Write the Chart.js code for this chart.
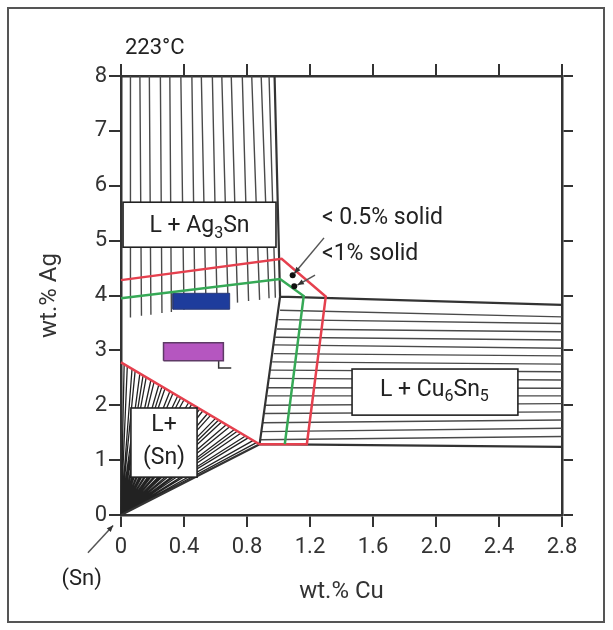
<!DOCTYPE html>
<html>
<head>
<meta charset="utf-8">
<script src="https://cdn.jsdelivr.net/npm/chart.js@4.4.0/dist/chart.umd.min.js"></script>
<style>
  body { margin: 0; background: #fff; }
  #wrap { width: 613px; height: 630px; }
</style>
</head>
<body>
<div id="wrap"><canvas id="grafico_fase" width="613" height="630"></canvas></div>
<script>
const FONTE = "Roboto, 'Liberation Sans', Arial, sans-serif"

// eixos
const valores_cu = [0, 0.4, 0.8, 1.2, 1.6, 2.0, 2.4, 2.8]
const rotulos_cu = ['0', '0.4', '0.8', '1.2', '1.6', '2.0', '2.4', '2.8']
const valores_ag = [0, 1, 2, 3, 4, 5, 6, 7, 8]
const rotulos_ag = ['0', '1', '2', '3', '4', '5', '6', '7', '8']

// L + Ag3Sn : linhas de amarração verticais (topo em 8 wt.% Ag)
const ag3sn_topo_x = [0.06, 0.12, 0.18, 0.25, 0.31, 0.38, 0.45, 0.51, 0.58, 0.64, 0.70, 0.77, 0.83, 0.89, 0.94]
const ag3sn_base_x = [0.06, 0.13, 0.19, 0.26, 0.32, 0.40, 0.47, 0.54, 0.61, 0.68, 0.74, 0.81, 0.88, 0.94, 0.98]
const ag3sn_base_y = [3.60, 3.63, 3.65, 3.68, 3.70, 3.74, 3.76, 3.79, 3.82, 3.85, 3.87, 3.90, 3.92, 3.95, 3.96]

// L + Cu6Sn5 : linhas horizontais (da fronteira esquerda até 2.8 wt.% Cu)
const cu6sn5_esq_x = [1.01, 1.00, 0.99, 0.98, 0.97, 0.97, 0.96, 0.95, 0.94, 0.93, 0.93, 0.92, 0.91, 0.90, 0.89, 0.88]
const cu6sn5_esq_y = [3.73, 3.56, 3.39, 3.24, 3.10, 2.94, 2.79, 2.64, 2.49, 2.32, 2.17, 2.00, 1.85, 1.68, 1.52, 1.37]
const cu6sn5_dir_y = [3.61, 3.49, 3.34, 3.19, 3.04, 2.90, 2.75, 2.61, 2.46, 2.31, 2.17, 2.03, 1.88, 1.73, 1.58, 1.43]

// L + (Sn) : leque a partir da origem
const sn_leque_x = [0.02, 0.04, 0.07, 0.09, 0.12, 0.14, 0.16, 0.19, 0.21, 0.24, 0.26, 0.28, 0.31, 0.33, 0.36, 0.38, 0.40, 0.43,
                    0.45, 0.48, 0.50, 0.52, 0.55, 0.57, 0.60, 0.62, 0.64, 0.67, 0.69, 0.72, 0.74, 0.76, 0.79, 0.81, 0.84, 0.86]
const sn_leque_y = [2.75, 2.71, 2.66, 2.63, 2.58, 2.54, 2.51, 2.46, 2.42, 2.37, 2.34, 2.31, 2.25, 2.22, 2.17, 2.14, 2.10, 2.05,
                    2.02, 1.97, 1.93, 1.90, 1.85, 1.82, 1.76, 1.73, 1.70, 1.65, 1.61, 1.56, 1.53, 1.49, 1.44, 1.41, 1.36, 1.32]

// fronteiras das regiões (segmentos)
const fronteira_x1 = [0.975, 1.01, 0.88, 1.01, 0]
const fronteira_y1 = [8, 3.98, 1.29, 3.98, 0]
const fronteira_x2 = [1.01, 2.8, 2.8, 0.88, 0.88]
const fronteira_y2 = [3.98, 3.83, 1.24, 1.29, 1.29]

// contornos < 0.5% solid (vermelho) e < 1% solid (verde)
const vermelho_x = [0, 0.88, 1.18, 1.30, 1.02, 0]
const vermelho_y = [2.78, 1.29, 1.29, 3.98, 4.67, 4.28]
const verde_x = [0, 1.01, 1.16, 1.04]
const verde_y = [3.95, 4.30, 3.99, 1.29]

// pontos e composições marcadas
const pontos_x = [1.09, 1.10]
const pontos_y = [4.37, 4.17]
const azul_x = [0.33, 0.69]
const azul_y = [3.75, 4.04]
const roxo_x = [0.27, 0.65]
const roxo_y = [2.81, 3.14]
const marca_l_x = [0.62, 0.62, 0.70]
const marca_l_y = [2.82, 2.68, 2.68]

function linha(xs, ys) {
    return xs.map((x, i) => ({ x: x, y: ys[i] }))
}
function segmentos(x1, y1, x2, y2) {
    const pts = []
    for (let i = 0; i < x1.length; i++) {
        pts.push({ x: x1[i], y: y1[i] }, { x: x2[i], y: y2[i] }, { x: null, y: null })
    }
    return pts
}
function retangulo(xs, ys) {
    return linha([xs[0], xs[1], xs[1], xs[0], xs[0]], [ys[0], ys[0], ys[1], ys[1], ys[0]])
}

const base = { pointRadius: 0, spanGaps: false, clip: false, tension: 0, fill: false }

const datasets = [
    { ...base, label: 'pontos', data: linha(pontos_x, pontos_y), showLine: false, pointRadius: 3, pointBackgroundColor: '#111', pointBorderWidth: 0 },
    { ...base, label: '<1% solid', data: linha(verde_x, verde_y), borderColor: '#36a956', borderWidth: 2.5 },
    { ...base, label: '< 0.5% solid', data: linha(vermelho_x, vermelho_y), borderColor: '#e5404e', borderWidth: 2.5 },
    { ...base, label: 'azul', data: retangulo(azul_x, azul_y), fill: 'shape', backgroundColor: '#1e3c9c', borderColor: '#2b3b78', borderWidth: 1 },
    { ...base, label: 'roxo', data: retangulo(roxo_x, roxo_y), fill: 'shape', backgroundColor: '#b556c0', borderColor: '#5e3a66', borderWidth: 1.5 },
    { ...base, label: 'marca', data: linha(marca_l_x, marca_l_y), borderColor: '#333', borderWidth: 1.5 },
    { ...base, label: 'fronteiras', data: segmentos(fronteira_x1, fronteira_y1, fronteira_x2, fronteira_y2), borderColor: '#333', borderWidth: 2.2 },
    { ...base, label: 'Ag3Sn', data: segmentos(ag3sn_topo_x, ag3sn_topo_x.map(() => 8), ag3sn_base_x, ag3sn_base_y), borderColor: '#4a4a4a', borderWidth: 1.4 },
    { ...base, label: 'Cu6Sn5', data: segmentos(cu6sn5_esq_x, cu6sn5_esq_y, cu6sn5_esq_x.map(() => 2.8), cu6sn5_dir_y), borderColor: '#4a4a4a', borderWidth: 1.4 },
    { ...base, label: 'Sn', data: segmentos(sn_leque_x.map(() => 0), sn_leque_x.map(() => 0), sn_leque_x, sn_leque_y), borderColor: '#222', borderWidth: 1.3 },
]

function textoRico(ctx, partes, cx, cy, tam, alinhar) {
    const tamSub = Math.round(tam * 0.68)
    let w = 0
    partes.forEach(p => {
        ctx.font = (p[1] ? tamSub : tam) + 'px ' + FONTE
        w += ctx.measureText(p[0]).width
    })
    let x = alinhar === 'left' ? cx : cx - w / 2
    ctx.textAlign = 'left'
    ctx.textBaseline = 'middle'
    partes.forEach(p => {
        ctx.font = (p[1] ? tamSub : tam) + 'px ' + FONTE
        ctx.fillText(p[0], x, p[1] ? cy + tam * 0.3 : cy)
        x += ctx.measureText(p[0]).width
    })
}

function caixa(ctx, x1, y1, x2, y2) {
    ctx.fillStyle = '#fff'
    ctx.fillRect(x1, y1, x2 - x1, y2 - y1)
    ctx.strokeStyle = '#222'
    ctx.lineWidth = 1.6
    ctx.strokeRect(x1, y1, x2 - x1, y2 - y1)
}

function seta(ctx, x1, y1, x2, y2) {
    ctx.beginPath()
    ctx.moveTo(x1, y1)
    ctx.lineTo(x2, y2)
    ctx.stroke()
    const a = Math.atan2(y2 - y1, x2 - x1), L = 7
    ctx.beginPath()
    ctx.moveTo(x2, y2)
    ctx.lineTo(x2 - L * Math.cos(a - 0.4), y2 - L * Math.sin(a - 0.4))
    ctx.lineTo(x2 - L * Math.cos(a + 0.4), y2 - L * Math.sin(a + 0.4))
    ctx.closePath()
    ctx.fill()
}

const anotacoes = {
    id: 'anotacoes',
    beforeDraw(chart) {
        const ctx = chart.ctx
        ctx.save()
        ctx.fillStyle = '#fff'
        ctx.fillRect(0, 0, chart.width, chart.height)
        ctx.strokeStyle = '#555'
        ctx.lineWidth = 2
        ctx.strokeRect(8, 8, chart.width - 17, chart.height - 16)
        ctx.restore()
    },
    afterDatasetsDraw(chart) {
        const ctx = chart.ctx
        const px = v => chart.scales.x.getPixelForValue(v)
        const py = v => chart.scales.y.getPixelForValue(v)
        ctx.save()

        // caixas das regiões
        caixa(ctx, px(0.013), py(5.70), px(0.984), py(4.88))
        caixa(ctx, px(1.467), py(2.66), px(2.52), py(1.82))
        caixa(ctx, px(0.063), py(1.95), px(0.483), py(0.69))

        ctx.fillStyle = '#222'
        textoRico(ctx, [['L + Ag'], ['3', 1], ['Sn']], px(0.4985), py(5.29) + 2, 23)
        textoRico(ctx, [['L + Cu'], ['6', 1], ['Sn'], ['5', 1]], px(1.99), py(2.24) - 2, 23)
        const cySn = (py(1.95) + py(0.69)) / 2
        textoRico(ctx, [['L+']], px(0.273), cySn - 17, 23)
        textoRico(ctx, [['(Sn)']], px(0.273), cySn + 16, 23)

        // rótulos soltos
        textoRico(ctx, [['223°C']], px(0.025), py(8.51), 22, 'left')
        textoRico(ctx, [['< 0.5% solid']], px(1.276), py(5.41), 23, 'left')
        textoRico(ctx, [['<1% solid']], px(1.276), py(4.75), 23, 'left')
        textoRico(ctx, [['(Sn)']], px(-0.25), py(-1.18), 22)

        // setas
        ctx.strokeStyle = '#555'
        ctx.fillStyle = '#333'
        ctx.lineWidth = 1.5
        seta(ctx, px(1.289), py(5.05), px(1.10), py(4.40))
        seta(ctx, px(1.232), py(4.37), px(1.12), py(4.19))
        seta(ctx, px(-0.21), py(-0.69), px(-0.05), py(-0.19))
        ctx.restore()
    }
}

const eixo_fonte = { family: FONTE, size: 22 }
const titulo_fonte = { family: FONTE, size: 24 }
const grade = { drawOnChartArea: false, drawTicks: true, tickLength: 12, color: '#333', lineWidth: 2 }
const borda = { display: true, color: '#333', width: 2.5 }

function escala(valores, rotulos, extra) {
    return Object.assign({
        type: 'linear',
        min: valores[0],
        max: valores[valores.length - 1],
        grid: grade,
        border: borda,
        afterBuildTicks: s => { s.ticks = valores.map(v => ({ value: v })) },
        ticks: { display: true, color: '#333', font: eixo_fonte, callback: (v, i) => rotulos[i] },
    }, extra)
}

const config_fase = {
    type: 'line',
    data: { datasets: datasets },
    options: {
        responsive: false,
        animation: false,
        devicePixelRatio: 1,
        layout: { padding: 0 },
        plugins: { legend: { display: false }, tooltip: { enabled: false } },
        scales: {
            x: escala(valores_cu, rotulos_cu, {
                position: 'bottom',
                afterFit: s => { s.height = 115 },
                ticks: { color: '#333', font: eixo_fonte, padding: 7, maxRotation: 0, autoSkip: false, callback: (v, i) => rotulos_cu[i] },
                title: { display: true, text: 'wt.% Cu', color: '#333', font: titulo_fonte, padding: { top: 0, bottom: 24 } },
            }),
            x2: escala(valores_cu, rotulos_cu, {
                position: 'top',
                afterFit: s => { s.height = 76 },
                ticks: { display: false },
            }),
            y: escala(valores_ag, rotulos_ag, {
                position: 'left',
                afterFit: s => { s.width = 121 },
                ticks: { color: '#333', font: eixo_fonte, padding: 2, autoSkip: false, callback: (v, i) => rotulos_ag[i] },
                title: { display: true, text: 'wt.% Ag', color: '#333', font: titulo_fonte, padding: { top: 36, bottom: 0 } },
            }),
            y2: escala(valores_ag, rotulos_ag, {
                position: 'right',
                afterFit: s => { s.width = 51 },
                grid: { drawOnChartArea: false, drawTicks: true, tickLength: 11, color: '#333', lineWidth: 2 },
                ticks: { display: false },
            }),
        }
    },
    plugins: [anotacoes]
}

new Chart(document.getElementById('grafico_fase'), config_fase)
</script>
</body>
</html>
